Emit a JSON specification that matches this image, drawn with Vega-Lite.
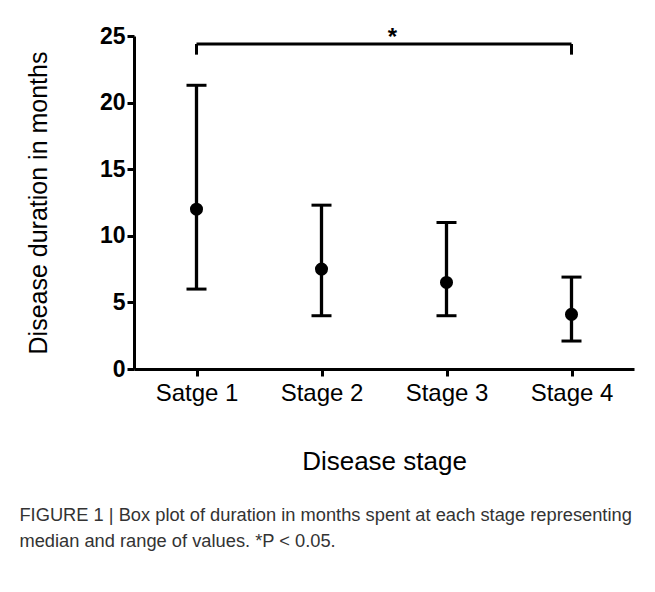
{
  "$schema": "https://vega.github.io/schema/vega-lite/v6.json",
  "width": 500,
  "height": 333,
  "autosize": "none",
  "padding": {"left": 134, "top": 36, "right": 21, "bottom": 223},
  "background": "white",
  "config": {
    "view": {"stroke": null},
    "font": "Liberation Sans",
    "axis": {"grid": false}
  },
  "title": {
    "text": ["FIGURE 1 | Box plot of duration in months spent at each stage representing", "median and range of values. *P < 0.05."],
    "orient": "bottom",
    "anchor": "start",
    "align": "left",
    "dx": -7,
    "offset": 33,
    "fontSize": 18.3,
    "fontWeight": "normal",
    "color": "#333333",
    "lineHeight": 26,
    "font": "Liberation Sans"
  },
  "datasets": {
    "stages": [
      {"stage": "Satge 1", "median": 12, "min": 6, "max": 21.3},
      {"stage": "Stage 2", "median": 7.5, "min": 4, "max": 12.3},
      {"stage": "Stage 3", "median": 6.5, "min": 4, "max": 11},
      {"stage": "Stage 4", "median": 4.1, "min": 2.1, "max": 6.9}
    ],
    "bracket": [
      {"from": "Satge 1", "to": "Stage 4", "y": 24.4, "y_low": 23.6, "label": "*", "label_at": "Stage 2"}
    ]
  },
  "encoding": {
    "x": {
      "field": "stage",
      "type": "nominal",
      "sort": ["Satge 1", "Stage 2", "Stage 3", "Stage 4"],
      "scale": {"type": "point", "padding": 0.5, "domain": ["Satge 1", "Stage 2", "Stage 3", "Stage 4"]},
      "axis": {
        "title": "Disease stage",
        "titleFontSize": 26,
        "titleFontWeight": "normal",
        "titleColor": "black",
        "titlePadding": 43,
        "labelAngle": 0,
        "labelFontSize": 24,
        "labelColor": "black",
        "labelPadding": 5,
        "domainColor": "black",
        "domainWidth": 3,
        "tickColor": "black",
        "tickWidth": 3,
        "tickSize": 7
      }
    }
  },
  "layer": [
    {
      "data": {"name": "stages"},
      "mark": {"type": "rule", "color": "black", "strokeWidth": 3.3},
      "encoding": {
        "y": {
          "field": "min",
          "type": "quantitative",
          "scale": {"domain": [0, 25], "nice": false},
          "axis": {
            "title": "Disease duration in months",
            "titleFontSize": 25,
            "titleFontWeight": "normal",
            "titleColor": "black",
            "titlePadding": 48,
            "values": [0, 5, 10, 15, 20, 25],
            "labelFontSize": 23,
            "labelFontWeight": "bold",
            "labelColor": "black",
            "labelPadding": 2,
            "domainColor": "black",
            "domainWidth": 3,
            "tickColor": "black",
            "tickWidth": 3,
            "tickSize": 7
          }
        },
        "y2": {"field": "max"}
      }
    },
    {
      "data": {"name": "stages"},
      "mark": {"type": "tick", "color": "black", "thickness": 3, "size": 20, "opacity": 1},
      "encoding": {"y": {"field": "min", "type": "quantitative"}}
    },
    {
      "data": {"name": "stages"},
      "mark": {"type": "tick", "color": "black", "thickness": 3, "size": 20, "opacity": 1},
      "encoding": {"y": {"field": "max", "type": "quantitative"}}
    },
    {
      "data": {"name": "stages"},
      "mark": {"type": "point", "filled": true, "shape": "circle", "color": "black", "size": 170, "opacity": 1},
      "encoding": {"y": {"field": "median", "type": "quantitative"}}
    },
    {
      "data": {"name": "bracket"},
      "mark": {"type": "rule", "color": "black", "strokeWidth": 3},
      "encoding": {
        "x": {"field": "from", "type": "nominal"},
        "x2": {"field": "to"},
        "y": {"field": "y", "type": "quantitative"}
      }
    },
    {
      "data": {"name": "bracket"},
      "mark": {"type": "rule", "color": "black", "strokeWidth": 3},
      "encoding": {
        "x": {"field": "from", "type": "nominal"},
        "y": {"field": "y", "type": "quantitative"},
        "y2": {"field": "y_low"}
      }
    },
    {
      "data": {"name": "bracket"},
      "mark": {"type": "rule", "color": "black", "strokeWidth": 3},
      "encoding": {
        "x": {"field": "to", "type": "nominal"},
        "y": {"field": "y", "type": "quantitative"},
        "y2": {"field": "y_low"}
      }
    },
    {
      "data": {"name": "bracket"},
      "mark": {"type": "text", "color": "black", "fontSize": 24, "fontWeight": "bold", "dx": 71, "dy": 1, "baseline": "alphabetic", "align": "center"},
      "encoding": {
        "x": {"field": "label_at", "type": "nominal"},
        "y": {"field": "y", "type": "quantitative"},
        "text": {"field": "label"}
      }
    }
  ]
}
